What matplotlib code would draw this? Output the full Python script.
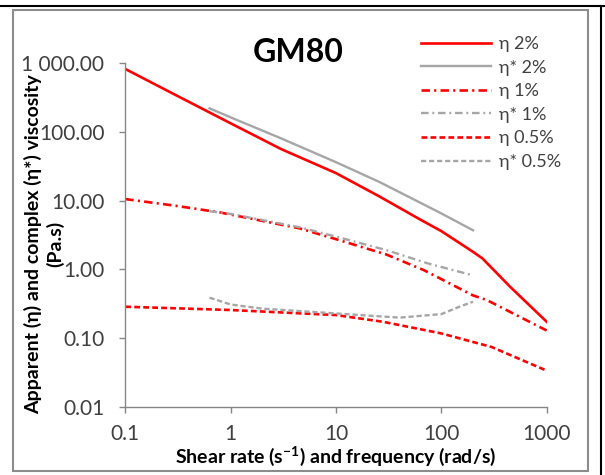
import matplotlib
matplotlib.use('Agg')
import matplotlib.pyplot as plt
from matplotlib.patches import Rectangle
from matplotlib.lines import Line2D

plt.rcParams['font.family'] = ['Lato', 'DejaVu Sans']

# data (log-log)
eta2_x = [0.1, 0.3, 1, 3, 10, 26, 63, 100, 200, 245, 450, 1000]
eta2_y = [811, 340, 132, 56, 25, 11.4, 5.3, 3.6, 1.8, 1.45, 0.56, 0.174]

eta2s_x = [0.63, 1, 3, 10, 26, 100, 200]
eta2s_y = [218, 161, 80, 36, 18.5, 6.5, 3.7]

eta1_x = [0.1, 0.3, 0.8, 4.5, 10, 30, 68, 200, 270, 1000]
eta1_y = [10.5, 8.4, 6.7, 3.95, 2.75, 1.65, 0.98, 0.42, 0.36, 0.13]

eta1s_x = [0.63, 1, 4.5, 10, 30, 75, 200]
eta1s_y = [7.0, 6.4, 4.1, 3.0, 1.91, 1.22, 0.82]

eta05_x = [0.1, 1, 10, 28, 100, 300, 1000]
eta05_y = [0.288, 0.258, 0.218, 0.174, 0.118, 0.075, 0.034]

eta05s_x = [0.63, 1, 2, 10, 40, 100, 150, 200]
eta05s_y = [0.39, 0.31, 0.27, 0.23, 0.20, 0.225, 0.29, 0.34]

series_labels = ['η 2%', 'η* 2%', 'η 1%', 'η* 1%', 'η 0.5%', 'η* 0.5%']

yticks = [0.01, 0.1, 1, 10, 100, 1000]
ytick_labels = ['0.01', '0.10', '1.00', '10.00', '100.00', '1 000.00']
xticks = [0.1, 1, 10, 100, 1000]
xtick_labels = ['0.1', '1', '10', '100', '1000']

RED = '#ff0000'
GRAY = '#a6a6a6'
TXT = '#404040'
dashdot = (0, (3.2, 1.6, 0.8, 1.6))
dashed = (0, (2.2, 1.2))

fig = plt.figure(figsize=(6.05, 4.75), dpi=100)
ax = fig.add_axes([125.3 / 605, 1 - 407.3 / 475, (546.7 - 125.3) / 605, (407.3 - 62.7) / 475])

ax.plot(eta2_x, eta2_y, color=RED, lw=1.9, label=series_labels[0])
ax.plot(eta2s_x, eta2s_y, color=GRAY, lw=1.7, label=series_labels[1])
ax.plot(eta1_x, eta1_y, color=RED, lw=1.9, ls=dashdot, label=series_labels[2])
ax.plot(eta1s_x, eta1s_y, color=GRAY, lw=1.7, ls=dashdot, label=series_labels[3])
ax.plot(eta05_x, eta05_y, color=RED, lw=1.9, ls=dashed, label=series_labels[4])
ax.plot(eta05s_x, eta05s_y, color=GRAY, lw=1.7, ls=dashed, label=series_labels[5])

ax.set_xscale('log')
ax.set_yscale('log')
ax.set_xlim(0.1, 1000)
ax.set_ylim(0.01, 1000)
ax.set_xticks(xticks)
ax.set_xticklabels(xtick_labels)
ax.set_yticks(yticks)
ax.set_yticklabels(ytick_labels)
ax.minorticks_off()
ax.tick_params(axis='both', direction='out', length=4, width=1, color='#868686',
               labelcolor=TXT, labelsize=15)
ax.tick_params(axis='y', pad=11)
ax.tick_params(axis='x', pad=8)
for s in ['top', 'right']:
    ax.spines[s].set_visible(False)
for s in ['left', 'bottom']:
    ax.spines[s].set_color('#868686')
    ax.spines[s].set_linewidth(1)
ax.patch.set_alpha(0)

fig.text(298 / 605, 1 - 53 / 475, 'GM80', ha='center', va='center',
         fontsize=23, fontweight='bold', color='black')
fig.text(336 / 605, 1 - 456 / 475, 'Shear rate (s$^{\\mathregular{-1}}$) and frequency (rad/s)',
         ha='center', va='center', fontsize=14, fontweight='bold', color='black')
fig.text(44 / 605, 1 - 244 / 475, 'Apparent (η) and complex (η*) viscosity\n(Pa.s)',
         ha='center', va='center', rotation=90, fontsize=14, fontweight='bold',
         color='black', linespacing=1.3)

leg = ax.legend(loc='upper left', bbox_to_anchor=(421 / 605, 1 - 36 / 475),
                bbox_transform=fig.transFigure, frameon=False, fontsize=13,
                handlelength=3.9, handletextpad=0.4, labelspacing=0.42,
                borderpad=0, borderaxespad=0)
for t in leg.get_texts():
    t.set_color(TXT)

# chart frame and page borders
fig.patches.append(Rectangle((13 / 605, 1 - 471 / 475), 575 / 605, 461 / 475,
                             transform=fig.transFigure, fill=False,
                             edgecolor='#8c8c8c', lw=1.5))
fig.lines.append(Line2D([0, 1], [1 - 5.5 / 475] * 2, transform=fig.transFigure,
                        color='black', lw=1.5))
fig.lines.append(Line2D([601 / 605] * 2, [0, 1 - 5.5 / 475], transform=fig.transFigure,
                        color='black', lw=1.5))

fig.savefig('out.png', dpi=100)
